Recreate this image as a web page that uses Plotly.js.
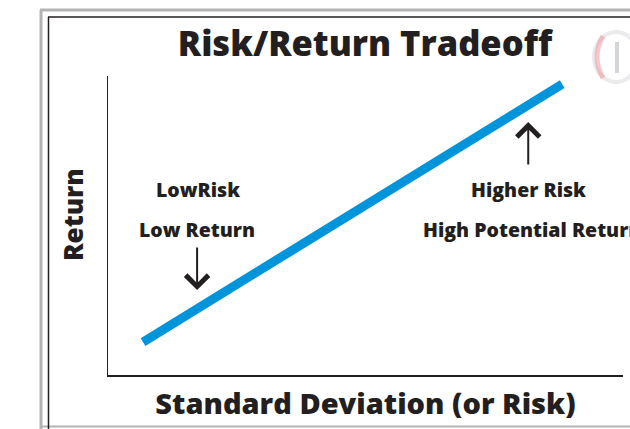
<!DOCTYPE html>
<html>
<head>
<meta charset="utf-8">
<script src="https://cdn.plot.ly/plotly-3.0.1.min.js"></script>
<style>html,body{margin:0;padding:0;background:#fff;}#chart{width:630px;height:429px;}</style>
</head>
<body>
<div id="chart"></div>
<script>
// ---- data ----
const riskValues = [0.68, 8.82];        // standard deviation (risk)
const returnValues = [1.1, 9.73];       // return
const chartTitle = "Risk/Return Tradeoff";
const xTitle = "Standard Deviation (or Risk)";
const yTitle = "Return";
const lowLabels = ["LowRisk", "Low Return"];
const highLabels = ["Higher Risk", "High Potential Return"];

// ---- layout helpers (pixel -> paper) ----
const W = 630, H = 429;
const L = 108, R = 7, T = 76, B = 54;
const pw = W - L - R, ph = H - T - B;
const px = v => (v - L) / pw;
const py = v => (H - B - v) / ph;
const ink = "#231f20";
const font = (s) => ({family: "Open Sans, sans-serif", size: s, color: ink, weight: 800});

const trace = {
  x: riskValues, y: returnValues, type: "scatter", mode: "lines",
  line: {color: "#0095da", width: 9}, hoverinfo: "skip", showlegend: false
};

const shapes = [
  // outer grey frame
  {type: "line", xref: "paper", yref: "paper", x0: px(41), x1: px(41), y0: py(10), y1: py(432), line: {color: "#b3b3b3", width: 3}},
  {type: "line", xref: "paper", yref: "paper", x0: px(40), x1: px(632), y0: py(10), y1: py(10), line: {color: "#b3b3b3", width: 3}},
  {type: "line", xref: "paper", yref: "paper", x0: px(40), x1: px(632), y0: py(426.5), y1: py(426.5), line: {color: "#b3b3b3", width: 2}},
  // inner dark frame
  {type: "line", xref: "paper", yref: "paper", x0: px(48.5), x1: px(48.5), y0: py(17), y1: py(432), line: {color: ink, width: 1.5}},
  {type: "line", xref: "paper", yref: "paper", x0: px(48), x1: px(632), y0: py(17), y1: py(17), line: {color: ink, width: 1.5}},
  // faint logo
  {type: "circle", xref: "paper", yref: "paper", x0: px(594), x1: px(638), y0: py(32), y1: py(82), line: {color: "rgba(215,215,220,0.5)", width: 4}},
  {type: "path", xref: "paper", yref: "paper",
   path: `M ${px(603)} ${py(36)} Q ${px(591)} ${py(57)} ${px(603)} ${py(78)}`,
   line: {color: "rgba(240,130,140,0.45)", width: 5}},
  {type: "rect", xref: "paper", yref: "paper", x0: px(615), x1: px(619), y0: py(42), y1: py(73), fillcolor: "rgba(160,160,170,0.45)", line: {width: 0}}
];

const arrowStyle = {text: "", showarrow: true, arrowhead: 4, arrowsize: 2.2, arrowwidth: 2, arrowcolor: ink, xref: "x", yref: "y"};
const annotations = [
  {x: 1.75, y: 6.19, text: lowLabels[0], showarrow: false, font: font(19.5), xanchor: "center", yanchor: "middle"},
  {x: 1.73, y: 4.88, text: lowLabels[1], showarrow: false, font: font(19.5), xanchor: "center", yanchor: "middle"},
  {x: 8.16, y: 6.19, text: highLabels[0], showarrow: false, font: font(19.5), xanchor: "center", yanchor: "middle"},
  {x: 6.08, y: 4.85, text: highLabels[1], showarrow: false, font: font(19.5), xanchor: "left", yanchor: "middle"},
  Object.assign({x: 1.73, y: 2.84, ax: 0, ay: -44}, arrowStyle),
  Object.assign({x: 8.16, y: 8.46, ax: 0, ay: 44}, arrowStyle),
  // y-axis title
  {xref: "paper", yref: "paper", x: px(73), y: py(215), text: yTitle, textangle: -90, showarrow: false, font: font(26), xanchor: "center", yanchor: "middle"}
];

const layout = {
  width: W, height: H,
  margin: {l: L, r: R, t: T, b: B, pad: 0},
  paper_bgcolor: "#fff", plot_bgcolor: "#fff",
  title: {text: chartTitle, font: font(34.5), xref: "container", yref: "container", x: 365 / W, xanchor: "center", y: 1 - 44 / H, yanchor: "middle"},
  xaxis: {range: [0, 10], showline: true, linecolor: ink, linewidth: 1.5, showgrid: false, zeroline: false, showticklabels: false, ticks: "",
          title: {text: xTitle, font: font(29), standoff: 18}, automargin: false, fixedrange: true},
  yaxis: {range: [0, 10], showline: true, linecolor: ink, linewidth: 1.5, showgrid: false, zeroline: false, showticklabels: false, ticks: "",
          automargin: false, fixedrange: true},
  shapes: shapes,
  annotations: annotations,
  showlegend: false
};

Plotly.newPlot("chart", [trace], layout, {displayModeBar: false, staticPlot: true});
</script>
</body>
</html>
